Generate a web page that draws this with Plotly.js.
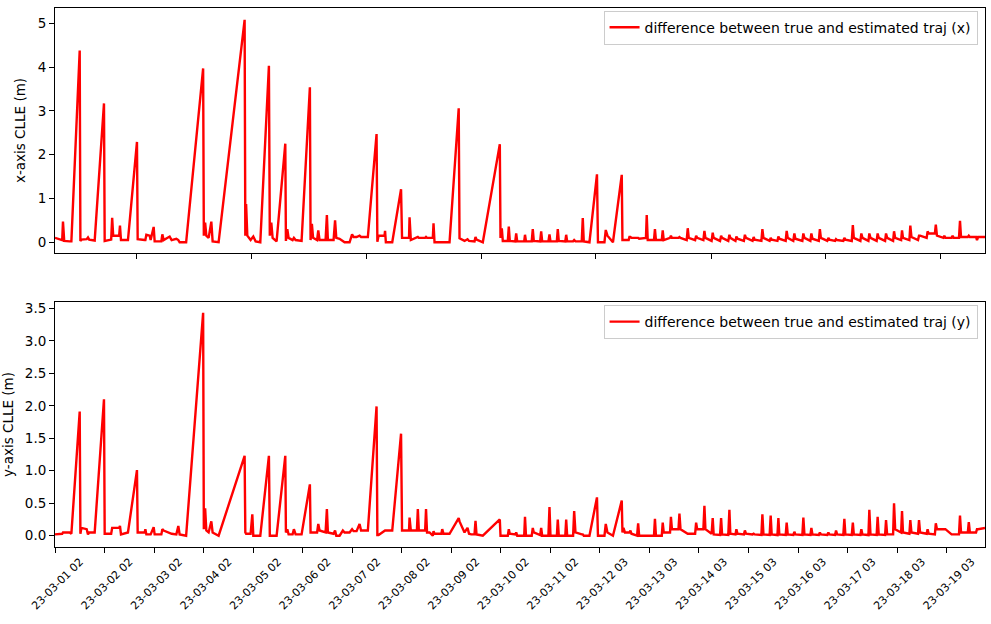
<!DOCTYPE html>
<html>
<head>
<meta charset="utf-8">
<script src="https://cdn.plot.ly/plotly-3.0.1.min.js"></script>
<style>
html, body { margin: 0; padding: 0; background: #fff; }
#chart { width: 991px; height: 624px; }
</style>
</head>
<body>
<div id="chart"></div>
<script>
// elapsed hours since 2023-03-01 00:00
var hours = [
  2.25, 4.53, 5.75, 6.13, 6.72, 9.39, 10.21, 14.25, 14.59, 15.07,
  17.65, 18.28, 18.86, 21.53, 26.05, 26.39, 29.55, 30.03, 30.52, 33.43,
  33.82, 34.31, 37.70, 42.08, 42.42, 45.82, 46.16, 46.64, 48.25, 48.73,
  50.19, 50.67, 53.93, 54.41, 55.05, 57.96, 58.93, 61.21, 62.18, 62.82,
  65.97, 74.23, 74.57, 75.20, 75.78, 76.90, 78.21, 78.84, 81.76, 94.39,
  94.73, 95.11, 95.70, 97.30, 98.13, 98.61, 99.73, 102.01, 106.19, 106.63,
  107.35, 107.99, 109.93, 114.15, 114.45, 115.13, 115.76, 117.70, 118.33, 119.16,
  122.07, 126.10, 126.44, 127.07, 127.66, 129.60, 130.18, 130.81, 133.73, 134.36,
  134.85, 137.61, 138.34, 138.93, 140.53, 142.13, 142.96, 145.39, 146.60, 147.33,
  148.79, 150.24, 150.97, 154.27, 158.50, 158.89, 159.47, 162.38, 162.63, 163.02,
  166.12, 170.40, 170.88, 174.28, 174.53, 175.16, 178.10, 178.56, 179.04, 182.10,
  182.54, 183.03, 184.24, 185.84, 186.18, 186.67, 190.00, 190.41, 191.04, 193.96,
  198.42, 198.81, 201.24, 202.70, 203.43, 204.49, 206.10, 206.58, 207.07, 208.53,
  210.13, 218.39, 218.73, 219.36, 219.84, 222.27, 222.76, 223.24, 225.90, 226.35,
  226.84, 230.24, 230.63, 231.11, 233.90, 234.41, 234.90, 238.00, 238.49, 238.98,
  242.00, 242.53, 243.01, 246.10, 246.56, 247.04, 250.20, 250.64, 251.12, 254.00,
  254.52, 255.15, 258.20, 258.70, 259.18, 261.95, 265.60, 266.08, 269.24, 269.87,
  270.70, 273.37, 277.64, 277.98, 278.47, 279.20, 281.00, 281.38, 281.87, 282.35,
  285.10, 285.61, 286.09, 289.40, 289.78, 290.27, 293.30, 293.77, 294.25, 297.10,
  297.55, 298.04, 301.10, 301.54, 302.02, 305.20, 305.67, 306.20, 309.20, 309.70,
  310.20, 313.30, 313.78, 314.30, 317.30, 317.81, 318.30, 321.30, 321.84, 322.30,
  325.40, 325.92, 326.40, 329.40, 329.95, 330.40, 332.90, 333.35, 333.90, 337.00,
  337.48, 338.00, 341.20, 341.75, 342.20, 345.50, 345.98, 346.50, 349.50, 350.01,
  350.50, 353.30, 353.75, 354.20, 357.30, 357.78, 358.30, 361.00, 361.52, 362.00,
  365.40, 365.89, 366.40, 369.30, 369.78, 370.30, 373.40, 373.91, 374.40, 377.50,
  378.04, 378.50, 381.30, 381.77, 382.30, 385.30, 385.81, 386.30, 389.40, 389.93,
  390.40, 393.60, 394.06, 394.60, 397.50, 397.95, 398.50, 401.50, 401.98, 402.50,
  405.60, 406.06, 406.60, 409.50, 409.95, 410.50, 413.40, 413.83, 414.30, 417.40,
  417.86, 418.40, 421.60, 422.09, 422.60, 425.80, 426.26, 426.80, 429.80, 430.25,
  430.80, 433.90, 434.38, 434.90, 437.90, 438.41, 438.90, 441.50, 442.00, 442.50,
  445.80, 446.28, 446.80, 449.80, 450.26, 450.80, 454.15
];

// difference between true and estimated trajectory, x (m)
var errX = [
  0.10, 0.06, 0.05, 0.47, 0.03, 0.02, 0.02, 4.38, 0.03, 0.06,
  0.07, 0.11, 0.06, 0.04, 3.17, 0.03, 0.06, 0.56, 0.15, 0.15,
  0.38, 0.05, 0.05, 2.29, 0.07, 0.05, 0.05, 0.17, 0.15, 0.05,
  0.35, 0.02, 0.02, 0.18, 0.05, 0.13, 0.05, 0.08, 0.05, 0.00,
  0.00, 3.97, 0.15, 0.45, 0.15, 0.10, 0.47, 0.02, 0.00, 5.08,
  0.15, 0.87, 0.15, 0.05, 0.10, 0.13, 0.02, 0.00, 4.03, 0.15,
  0.45, 0.10, 0.02, 2.25, 0.03, 0.30, 0.10, 0.05, 0.10, 0.05,
  0.03, 3.54, 0.05, 0.42, 0.10, 0.05, 0.27, 0.05, 0.05, 0.62,
  0.05, 0.05, 0.50, 0.10, 0.08, 0.02, 0.00, 0.00, 0.18, 0.12,
  0.12, 0.15, 0.12, 0.12, 2.47, 0.01, 0.15, 0.15, 0.26, 0.00,
  0.00, 1.21, 0.10, 0.10, 0.57, 0.05, 0.10, 0.12, 0.10, 0.10,
  0.12, 0.10, 0.10, 0.10, 0.43, 0.00, 0.00, 0.00, 0.00, 0.00,
  3.06, 0.09, 0.03, 0.07, 0.03, 0.02, 0.02, 0.12, 0.06, 0.03,
  0.00, 2.24, 0.10, 0.32, 0.03, 0.03, 0.36, 0.03, 0.02, 0.20,
  0.02, 0.02, 0.17, 0.02, 0.02, 0.30, 0.03, 0.02, 0.25, 0.02,
  0.02, 0.18, 0.02, 0.02, 0.30, 0.03, 0.02, 0.17, 0.02, 0.02,
  0.05, 0.02, 0.02, 0.55, 0.02, 0.00, 1.55, 0.00, 0.00, 0.28,
  0.15, 0.00, 1.54, 0.05, 0.05, 0.05, 0.05, 0.12, 0.12, 0.10,
  0.10, 0.10, 0.08, 0.10, 0.62, 0.05, 0.05, 0.30, 0.05, 0.05,
  0.27, 0.05, 0.10, 0.15, 0.10, 0.10, 0.12, 0.10, 0.05, 0.32,
  0.10, 0.05, 0.15, 0.10, 0.05, 0.26, 0.10, 0.03, 0.22, 0.10,
  0.03, 0.15, 0.10, 0.03, 0.17, 0.10, 0.03, 0.13, 0.08, 0.03,
  0.17, 0.10, 0.03, 0.12, 0.06, 0.03, 0.30, 0.10, 0.03, 0.10,
  0.06, 0.03, 0.13, 0.08, 0.03, 0.26, 0.10, 0.03, 0.20, 0.08,
  0.03, 0.20, 0.10, 0.03, 0.20, 0.08, 0.03, 0.30, 0.10, 0.03,
  0.10, 0.06, 0.03, 0.07, 0.05, 0.03, 0.10, 0.06, 0.03, 0.39,
  0.10, 0.03, 0.20, 0.10, 0.03, 0.20, 0.10, 0.03, 0.20, 0.10,
  0.03, 0.20, 0.10, 0.03, 0.25, 0.10, 0.05, 0.27, 0.10, 0.05,
  0.38, 0.12, 0.05, 0.15, 0.15, 0.10, 0.25, 0.20, 0.20, 0.40,
  0.15, 0.10, 0.15, 0.10, 0.10, 0.15, 0.10, 0.10, 0.49, 0.12,
  0.12, 0.15, 0.12, 0.12, 0.05, 0.12, 0.12
];

// difference between true and estimated trajectory, y (m)
var errY = [
  0.02, 0.02, 0.03, 0.05, 0.05, 0.05, 0.03, 1.91, 0.03, 0.12,
  0.10, 0.02, 0.05, 0.05, 2.10, 0.03, 0.03, 0.12, 0.12, 0.12,
  0.15, 0.02, 0.05, 1.01, 0.05, 0.05, 0.10, 0.02, 0.02, 0.02,
  0.13, 0.02, 0.02, 0.10, 0.08, 0.05, 0.03, 0.02, 0.15, 0.02,
  0.00, 3.43, 0.10, 0.42, 0.08, 0.05, 0.22, 0.05, 0.00, 1.23,
  0.05, 0.03, 0.03, 0.03, 0.33, 0.00, 0.00, 0.00, 1.23, 0.00,
  0.00, 0.00, 0.00, 1.23, 0.05, 0.10, 0.02, 0.02, 0.10, 0.02,
  0.02, 0.79, 0.05, 0.05, 0.05, 0.05, 0.18, 0.08, 0.05, 0.41,
  0.05, 0.03, 0.08, 0.00, 0.00, 0.08, 0.05, 0.05, 0.10, 0.07,
  0.07, 0.18, 0.08, 0.08, 1.99, 0.01, 0.01, 0.08, 0.08, 0.08,
  0.08, 1.57, 0.08, 0.08, 0.28, 0.08, 0.08, 0.41, 0.08, 0.08,
  0.41, 0.05, 0.05, 0.00, 0.07, 0.03, 0.03, 0.10, 0.03, 0.03,
  0.27, 0.22, 0.05, 0.12, 0.03, 0.02, 0.02, 0.23, 0.02, 0.01,
  0.00, 0.25, 0.00, 0.00, 0.00, 0.00, 0.10, 0.03, 0.02, 0.05,
  0.00, 0.00, 0.29, 0.00, 0.00, 0.12, 0.05, 0.01, 0.12, 0.00,
  0.00, 0.44, 0.00, 0.00, 0.25, 0.00, 0.00, 0.25, 0.00, 0.00,
  0.38, 0.05, 0.02, 0.02, 0.00, 0.00, 0.59, 0.00, 0.00, 0.18,
  0.05, 0.00, 0.54, 0.05, 0.12, 0.05, 0.05, 0.05, 0.08, 0.03,
  0.00, 0.19, 0.00, 0.00, 0.00, 0.00, 0.00, 0.26, 0.00, 0.00,
  0.20, 0.05, 0.05, 0.29, 0.10, 0.10, 0.34, 0.10, 0.03, 0.03,
  0.03, 0.03, 0.20, 0.10, 0.10, 0.46, 0.10, 0.03, 0.27, 0.02,
  0.01, 0.27, 0.02, 0.01, 0.40, 0.03, 0.02, 0.10, 0.03, 0.02,
  0.08, 0.03, 0.02, 0.03, 0.02, 0.01, 0.33, 0.02, 0.01, 0.31,
  0.02, 0.01, 0.27, 0.02, 0.01, 0.20, 0.02, 0.01, 0.06, 0.02,
  0.01, 0.28, 0.02, 0.01, 0.12, 0.02, 0.01, 0.05, 0.02, 0.01,
  0.05, 0.02, 0.01, 0.08, 0.02, 0.01, 0.26, 0.02, 0.01, 0.20,
  0.02, 0.01, 0.10, 0.02, 0.01, 0.40, 0.02, 0.01, 0.29, 0.02,
  0.01, 0.24, 0.02, 0.02, 0.50, 0.10, 0.05, 0.38, 0.05, 0.03,
  0.24, 0.05, 0.03, 0.24, 0.05, 0.03, 0.10, 0.03, 0.02, 0.19,
  0.10, 0.10, 0.10, 0.10, 0.02, 0.02, 0.02, 0.02, 0.31, 0.05,
  0.05, 0.21, 0.05, 0.05, 0.10, 0.10, 0.12
];

var tickHours = [2.25, 26.32, 50.39, 74.46, 98.53, 122.60, 146.67, 170.74, 194.81, 218.88,
                 242.95, 267.02, 291.09, 315.16, 339.23, 363.30, 387.37, 411.44, 435.51];
var tickLabels = ['23-03-01 02', '23-03-02 02', '23-03-03 02', '23-03-04 02', '23-03-05 02',
                  '23-03-06 02', '23-03-07 02', '23-03-08 02', '23-03-09 02', '23-03-10 02',
                  '23-03-11 02', '23-03-12 03', '23-03-13 03', '23-03-14 03', '23-03-15 03',
                  '23-03-16 03', '23-03-17 03', '23-03-18 03', '23-03-19 03'];
var topTickHours = [41.93, 97.93, 153.50, 209.35, 264.72, 321.06, 376.58, 432.29];
var rangeHours = [2.25, 454.15];

var startDay = Date.UTC(2023, 2, 1);
function toDate(h) {
    return new Date(startDay + h * 3600000).toISOString().replace('T', ' ').slice(0, 19);
}

var times = hours.map(toDate);
var font = 'DejaVu Sans, sans-serif';

var data = [{
    x: times,
    y: errX,
    xaxis: 'x',
    yaxis: 'y',
    type: 'scatter',
    mode: 'lines',
    name: 'difference between true and estimated traj (x)',
    line: {color: '#ff0000', width: 2.4},
    legend: 'legend'
}, {
    x: times,
    y: errY,
    xaxis: 'x2',
    yaxis: 'y2',
    type: 'scatter',
    mode: 'lines',
    name: 'difference between true and estimated traj (y)',
    line: {color: '#ff0000', width: 2.4},
    legend: 'legend2'
}];

function axisBase() {
    return {
        showline: true, mirror: true, linecolor: 'black', linewidth: 1,
        ticks: 'outside', ticklen: 5, tickwidth: 1, tickcolor: 'black',
        showgrid: false, zeroline: false,
        tickfont: {family: font, size: 13.5, color: 'black'}
    };
}

var xTop = axisBase();
Object.assign(xTop, {
    type: 'date', anchor: 'y', domain: [0, 1],
    range: rangeHours.map(toDate),
    tickmode: 'array', tickvals: topTickHours.map(toDate),
    showticklabels: false
});

var xBottom = axisBase();
Object.assign(xBottom, {
    type: 'date', anchor: 'y2', domain: [0, 1],
    range: rangeHours.map(toDate),
    tickmode: 'array', tickvals: tickHours.map(toDate), ticktext: tickLabels,
    tickangle: -45,
    ticklabelshift: 25,
    ticklabelstandoff: -2,
    tickfont: {family: font, size: 11, color: 'black'}
});

var yTop = axisBase();
Object.assign(yTop, {
    anchor: 'x', domain: [0.5455, 1],
    range: [-0.245, 5.35],
    tickmode: 'array', tickvals: [0, 1, 2, 3, 4, 5],
    title: {text: 'x-axis CLLE (m)', font: {family: font, size: 13.5, color: 'black'}, standoff: 8}
});

var yBottom = axisBase();
Object.assign(yBottom, {
    anchor: 'x2', domain: [0, 0.4545],
    range: [-0.174, 3.597],
    tickmode: 'array', tickvals: [0, 0.5, 1, 1.5, 2, 2.5, 3, 3.5],
    ticktext: ['0.0', '0.5', '1.0', '1.5', '2.0', '2.5', '3.0', '3.5'],
    title: {text: 'y-axis CLLE (m)', font: {family: font, size: 13.5, color: 'black'}, standoff: 8}
});

var legendBase = {
    xanchor: 'right', yanchor: 'top', x: 0.992,
    bgcolor: 'rgba(255,255,255,0.8)', bordercolor: '#cccccc', borderwidth: 1,
    font: {family: font, size: 14, color: 'black'}
};

var layout = {
    width: 991, height: 624,
    margin: {l: 55, r: 6, t: 8, b: 77},
    paper_bgcolor: 'white', plot_bgcolor: 'white',
    font: {family: font, color: 'black'},
    showlegend: true,
    xaxis: xTop, yaxis: yTop,
    xaxis2: xBottom, yaxis2: yBottom,
    legend: Object.assign({}, legendBase, {y: 0.995}),
    legend2: Object.assign({}, legendBase, {y: 0.449})
};

Plotly.newPlot('chart', data, layout, {displayModeBar: false, staticPlot: true});
</script>
</body>
</html>
